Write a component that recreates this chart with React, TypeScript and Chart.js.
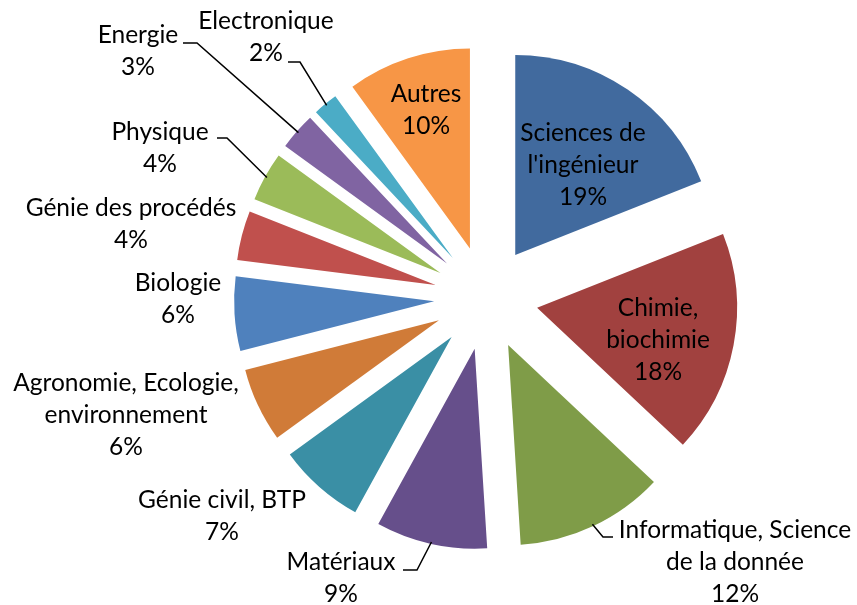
import React, { useEffect, useRef } from "react";
import { Chart, registerables } from "chart.js";

Chart.register(...registerables);

const CATEGORIES = [
  "Sciences de l'ingénieur",
  "Chimie, biochimie",
  "Informatique, Science de la donnée",
  "Matériaux",
  "Génie civil, BTP",
  "Agronomie, Ecologie, environnement",
  "Biologie",
  "Génie des procédés",
  "Physique",
  "Energie",
  "Electronique",
  "Autres",
];

const SHARES = [19, 18, 12, 9, 7, 6, 6, 4, 4, 3, 2, 10];

const LABEL_LINES: string[][] = [
  ["Sciences de", "l'ingénieur"],
  ["Chimie,", "biochimie"],
  ["Informatique, Science", "de la donnée"],
  ["Matériaux"],
  ["Génie civil, BTP"],
  ["Agronomie, Ecologie,", "environnement"],
  ["Biologie"],
  ["Génie des procédés"],
  ["Physique"],
  ["Energie"],
  ["Electronique"],
  ["Autres"],
];

const COLORS = [
  "#416A9E",
  "#A1413F",
  "#7F9C48",
  "#664F8B",
  "#3A8FA5",
  "#D07B38",
  "#4F81BD",
  "#C0504D",
  "#9BBB59",
  "#8064A2",
  "#4BACC6",
  "#F79646",
];

// layout: label block centres relative to the pie centre (px)
const LABEL_POS: [number, number][] = [
  [97, -133],
  [172, 42],
  [249, 264],
  [-145, 280],
  [-264, 218],
  [-360, 117],
  [-308, 1],
  [-355, -74],
  [-326, -150],
  [-348, -247],
  [-220, -261],
  [-60, -188],
];

// layout: leader lines (elbow, end) relative to pie centre
const LEADERS: Record<number, [number, number][]> = {
  2: [[117, 239], [127, 239]],
  3: [[-69, 272], [-83, 272]],
  8: [[-259, -160], [-269, -160]],
  9: [[-289, -255], [-303, -255]],
  10: [[-186, -236], [-198, -236]],
};

const EXPLODE = 52;
const RADIUS = 200;
const FONT = "24.5px Lato";
const LINE_H = 32;

const explodePlugin = {
  id: "explodePie",
  beforeDatasetDraw(chart: any, args: any) {
    const ctx = chart.ctx;
    args.meta.data.forEach((arc: any) => {
      const mid = (arc.startAngle + arc.endAngle) / 2;
      ctx.save();
      ctx.translate(Math.cos(mid) * EXPLODE, Math.sin(mid) * EXPLODE);
      arc.draw(ctx, chart.chartArea);
      ctx.restore();
    });
    return false;
  },
};

const labelPlugin = {
  id: "pieLabels",
  afterDatasetsDraw(chart: any) {
    const ctx = chart.ctx;
    const meta = chart.getDatasetMeta(0);
    const values = chart.data.datasets[0].data as number[];
    ctx.save();
    ctx.font = FONT;
    ctx.fillStyle = "#000000";
    ctx.textAlign = "center";
    ctx.textBaseline = "middle";
    meta.data.forEach((arc: any, i: number) => {
      const cx = arc.x;
      const cy = arc.y;
      const lines = [...LABEL_LINES[i], `${values[i]}%`];
      const [lx, ly] = LABEL_POS[i];
      const top = cy + ly - ((lines.length - 1) * LINE_H) / 2;
      lines.forEach((t, k) => ctx.fillText(t, cx + lx, top + k * LINE_H));
      const lead = LEADERS[i];
      if (lead) {
        const mid = (arc.startAngle + arc.endAngle) / 2;
        const sx = cx + Math.cos(mid) * (EXPLODE + arc.outerRadius - 2);
        const sy = cy + Math.sin(mid) * (EXPLODE + arc.outerRadius - 2);
        ctx.beginPath();
        ctx.strokeStyle = "#000000";
        ctx.lineWidth = 1.5;
        ctx.moveTo(sx, sy);
        lead.forEach(([px, py]) => ctx.lineTo(cx + px, cy + py));
        ctx.stroke();
      }
    });
    ctx.restore();
  },
};

export default function App() {
  const ref = useRef<HTMLCanvasElement | null>(null);
  useEffect(() => {
    if (!ref.current) return;
    const chart = new Chart(ref.current, {
      type: "pie",
      data: {
        labels: CATEGORIES,
        datasets: [
          {
            data: SHARES,
            backgroundColor: COLORS,
            borderWidth: 0,
            radius: RADIUS,
          } as any,
        ],
      },
      options: {
        responsive: false,
        animation: false,
        layout: { padding: { left: 115, right: 0, top: 0, bottom: 9 } },
        plugins: {
          legend: { display: false },
          tooltip: { enabled: false },
        },
      },
      plugins: [explodePlugin, labelPlugin],
    });
    return () => chart.destroy();
  }, []);
  return (
    <div style={{ position: "fixed", left: 0, top: 0, width: 857, height: 605, background: "#fff" }}>
      <canvas ref={ref} width={857} height={605} style={{ display: "block" }} />
    </div>
  );
}
